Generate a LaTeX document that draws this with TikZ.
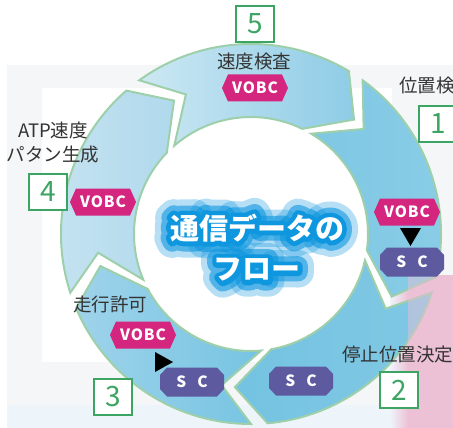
\documentclass[tikz,border=0pt]{standalone}
\usepackage{fontspec}
\setmainfont{Noto Sans CJK JP}
\newfontfamily\latbold[LetterSpace=6]{Noto Sans CJK JP}
\newfontfamily\glowA[FakeBold=110]{Noto Sans CJK JP}
\newfontfamily\glowB[FakeBold=68]{Noto Sans CJK JP}
\newfontfamily\glowC[FakeBold=32]{Noto Sans CJK JP}
\usetikzlibrary{calc}
\definecolor{ringedge}{HTML}{9DD0AA}
\definecolor{vobcpink}{HTML}{D4257F}
\definecolor{scpurple}{HTML}{5D5A9F}
\definecolor{numgreen}{HTML}{3DA563}
\definecolor{labelgray}{HTML}{333333}
\definecolor{glowblue}{HTML}{0E96DE}
\definecolor{panelgray}{HTML}{F5F6F7}
\definecolor{pinkbg}{HTML}{ECC0D5}
\definecolor{bluetint}{HTML}{EEF5FA}
\definecolor{sa}{HTML}{7EC7E3}\definecolor{sb}{HTML}{8ACDE7}
\definecolor{sc}{HTML}{74C3E2}\definecolor{sd}{HTML}{80C8E4}
\definecolor{se}{HTML}{9ED3EA}\definecolor{sf}{HTML}{76C4E2}
\definecolor{sg}{HTML}{C6E3F1}\definecolor{sh}{HTML}{B0D9EC}
\definecolor{si}{HTML}{CDE8F3}\definecolor{sj}{HTML}{8ECCE6}
\tikzset{
 seg/.style={draw=ringedge, line width=2pt, line join=miter},
 jplabel/.style={font=\fontsize{18.5}{20}\selectfont, text=labelgray, inner sep=0},
 numbox/.style={draw=numgreen, line width=2.2pt, fill=white, minimum width=38pt, minimum height=36pt, inner sep=0, text=numgreen, font=\fontsize{28}{28}\selectfont},
 vobctext/.style={text=white, font=\latbold\bfseries\fontsize{15.5}{16}\selectfont, inner sep=0},
 ctext/.style={font=\bfseries\fontsize{29}{30}\selectfont, inner sep=0},
 glowtext/.style={ctext, text=glowblue, line join=round, line cap=round},
 tri/.style={fill=black},
}
\newcommand{\hexbox}[3]{%
 \fill[vobcpink] (#2-33,#3) -- (#2-27,#3-13.5) -- (#2+27,#3-13.5) -- (#2+33,#3) -- (#2+27,#3+13.5) -- (#2-27,#3+13.5) -- cycle;
 \node[vobctext] (#1) at (#2,#3) {VOBC};}
\newcommand{\octbox}[3]{%
 \fill[scpurple] (#2-32,#3-7) -- (#2-25,#3-14.5) -- (#2+25,#3-14.5) -- (#2+32,#3-7) -- (#2+32,#3+7) -- (#2+25,#3+14.5) -- (#2-25,#3+14.5) -- (#2-32,#3+7) -- cycle;
 \node[vobctext] (#1) at (#2,#3) {S\hspace{11pt}C};}
\newcommand{\glowonly}[3]{%
 \begin{scope}[line join=round, line cap=round]
 \pgfsetroundjoin
 \node[glowtext,opacity=0.3,font=\glowA\bfseries\fontsize{29}{30}\selectfont] (#1a) at (#2) {#3};
 \node[glowtext,opacity=0.6,font=\glowB\bfseries\fontsize{29}{30}\selectfont] (#1b) at (#2) {#3};
 \node[glowtext,font=\glowC\bfseries\fontsize{29}{30}\selectfont] (#1c) at (#2) {#3};
 \end{scope}}
\begin{document}
\begin{tikzpicture}[x=1pt,y=-1pt]
\useasboundingbox (0,0) rectangle (453,428);
% background
\fill[white] (0,0) rectangle (453,428);
\fill[panelgray] (7,65) rectangle (453,428);
\fill[white] (42,88) rectangle (392,362);
\fill[bluetint] (7,405) rectangle (405,428);
\shade[left color=bluetint, right color=pinkbg] (390,275) rectangle (408,428);
\fill[pinkbg] (408,275) rectangle (453,428);
\coordinate (C) at (251,234);
\fill[white] (C) circle (117);
% ring segments
\begin{scope}[shift={(C)},yscale=-1]
\foreach \k/\ca/\cb in {1/sa/sb,2/sc/sd,3/se/sf,4/sg/sh,5/si/sj}{
 \pgfmathsetmacro\H{48-72*\k}
 \pgfmathsetmacro\aO{\H+78}
 \pgfmathsetmacro\aOe{\H+11}
 \pgfmathsetmacro\aIs{\H+16}
 \pgfmathsetmacro\aIe{\H+83}
 \pgfmathsetmacro\aV{\H+67}
 \path[seg, left color=\ca, right color=\cb] (\aO:190) arc[start angle=\aO, end angle=\aOe, radius=190] -- (\H:154) -- (\aIs:117) arc[start angle=\aIs, end angle=\aIe, radius=117] -- (\aV:154) -- cycle;
}
\end{scope}
\fill[pinkbg, opacity=0.45] (408,275) rectangle (453,428);
% centre text
\coordinate (t1) at (257,228);
\coordinate (t2) at (257,270);
\glowonly{g1}{t1}{通信データの}
\glowonly{g2}{t2}{フロー}
\node[ctext,text=white] (ctitle1) at (t1) {通信データの};
\node[ctext,text=white] (ctitle2) at (t2) {フロー};
% number boxes
\node[numbox] (n5) at (255,24) {5};
\node[numbox] (n1) at (438,124) {1};
\node[numbox] (n4) at (48,192) {4};
\node[numbox] (n3) at (113,397) {3};
\node[numbox] (n2) at (399,390) {2};
% labels
\node[jplabel] (l5) at (254,62) {速度検査};
\node[jplabel, anchor=west] (l1) at (399,86) {位置検};
\node[jplabel] (l4a) at (53,130) {ATP速度};
\node[jplabel] (l4b) at (53,155) {パタン生成};
\node[jplabel] (l3) at (110,304) {走行許可};
\node[jplabel, anchor=west] (l2) at (342,355) {停止位置決定};
% VOBC and SC shapes
\hexbox{v5}{255}{88}
\hexbox{v4}{103}{202}
\hexbox{v1}{407}{212}
\hexbox{v3}{143}{335}
\octbox{s1}{412}{262}
\octbox{s3}{192}{382}
\octbox{s2}{301}{381}
% triangles
\coordinate (ta1) at (400,228);
\coordinate (ta2) at (421,228);
\coordinate (ta3) at (410.5,246);
\fill[tri] (ta1) -- (ta2) -- (ta3) -- cycle;
\coordinate (tb1) at (155,352);
\coordinate (tb2) at (155,372);
\coordinate (tb3) at (173,362);
\fill[tri] (tb1) -- (tb2) -- (tb3) -- cycle;
\end{tikzpicture}
\end{document}
